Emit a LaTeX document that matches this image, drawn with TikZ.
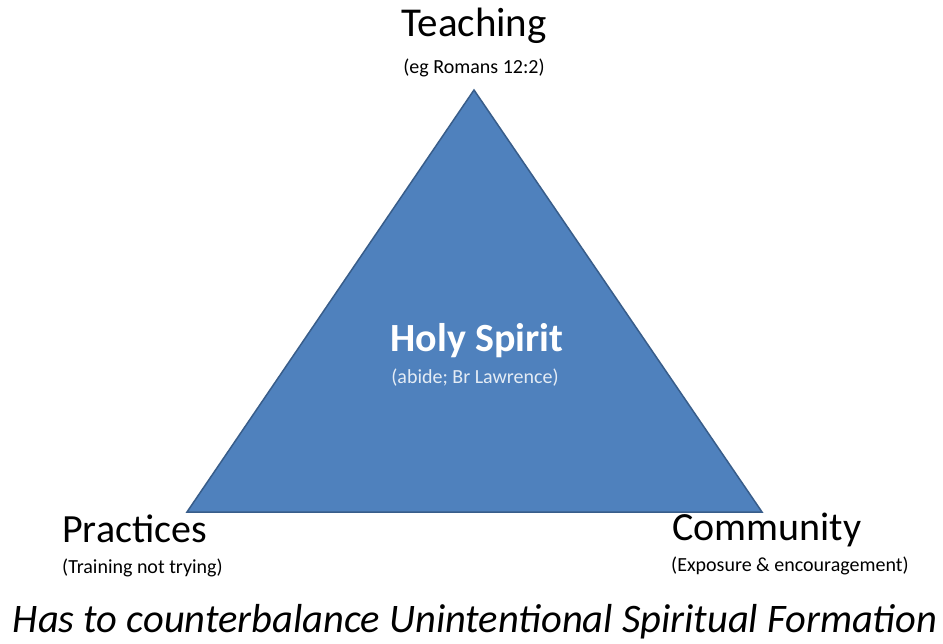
\documentclass[tikz,border=0pt]{standalone}
\usepackage{fontspec}
\setmainfont{Carlito}
\definecolor{tri}{HTML}{4F81BD}
\definecolor{triedge}{HTML}{385D8A}
\begin{document}
\begin{tikzpicture}[x=1pt,y=-1pt,
  big/.style={font=\fontsize{41}{44}\selectfont, inner sep=0pt, anchor=base},
  small/.style={font=\fontsize{20}{22}\selectfont, inner sep=0pt, anchor=base},
  ]
\useasboundingbox (0,0) rectangle (943,644);
\fill[white] (0,0) rectangle (943,644);
\coordinate (apex) at (474,90);
\coordinate (bl) at (187,512);
\coordinate (br) at (762,512);
\filldraw[fill=tri, draw=triedge, line width=1.5pt, line join=miter] (apex) -- (br) -- (bl) -- cycle;
\node[big] (teach) at (474,37) {Teaching};
\node[small] (teachsub) at (474,74) {(eg Romans 12:2)};
\node[big, font=\fontsize{40}{42}\selectfont\bfseries, text=white] (hs) at (477,352) {Holy Spirit};
\node[small, text=white!85!tri] (hssub) at (475,384) {(abide; Br Lawrence)};
\node[big, font=\fontsize{40}{44}\selectfont, anchor=base west] (prac) at (62,542) {Practices};
\node[small, anchor=base west] (pracsub) at (62,573) {(Training not trying)};
\node[big, font=\fontsize{40}{44}\selectfont, anchor=base west] (comm) at (672,540) {Community};
\node[small, anchor=base west] (commsub) at (671,571) {(Exposure \& encouragement)};
\node[big, font=\fontsize{40.5}{44}\selectfont\itshape] (foot) at (475,632) {Has to counterbalance Unintentional Spiritual Formation};
\end{tikzpicture}
\end{document}
